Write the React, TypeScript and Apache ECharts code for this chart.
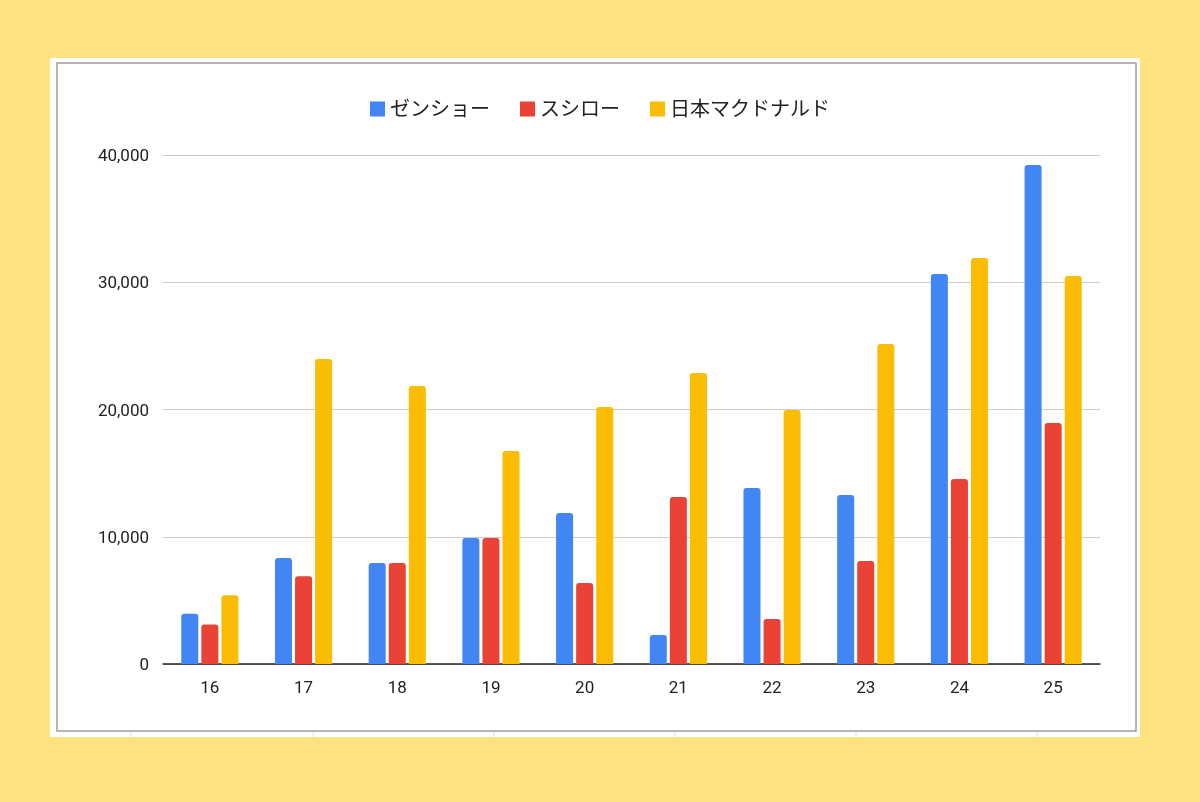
import React, { useEffect, useRef } from "react";
import * as echarts from "echarts";

const categories = ["16", "17", "18", "19", "20", "21", "22", "23", "24", "25"];
const zensho = [3950, 8330, 7940, 9900, 11870, 2280, 13830, 13280, 30650, 39210];
const sushiro = [3100, 6900, 7940, 9900, 6370, 13120, 3540, 8090, 14540, 18940];
const mcd = [5400, 23970, 21850, 16740, 20200, 22870, 19960, 25150, 31900, 30490];
const seriesNames = ["ゼンショー", "スシロー", "日本マクドナルド"];
const colors = ["#4285F4", "#EA4335", "#FBBC04"];

export default function App() {
  const ref = useRef<HTMLDivElement>(null);
  useEffect(() => {
    const chart = echarts.init(ref.current!, null, { renderer: "svg" });
    const font = "Roboto, 'Noto Sans CJK JP', sans-serif";
    const gridLines: any[] = [];
    [131, 313, 494, 675, 856, 1037].forEach((x) =>
      gridLines.push({ type: "line", shape: { x1: x, y1: 731, x2: x, y2: 737 }, style: { stroke: "#e3e3e3", lineWidth: 1 }, z: -9 })
    );
    chart.setOption({
      animation: false,
      color: colors,
      textStyle: { fontFamily: font },
      graphic: [
        { type: "rect", shape: { x: 0, y: 0, width: 1200, height: 802 }, style: { fill: "#FFE17F" }, z: -10 },
        { type: "rect", shape: { x: 50, y: 58, width: 1090, height: 679 }, style: { fill: "#ffffff" }, z: -10 },
        ...gridLines,
        { type: "rect", shape: { x: 57, y: 63, width: 1079, height: 668 }, style: { fill: "#ffffff", stroke: "#9e9e9e", lineWidth: 1.5 }, z: -8 },
      ],
      legend: {
        top: 94,
        left: "center",
        itemWidth: 15,
        itemHeight: 15,
        itemGap: 30,
        icon: "rect",
        textStyle: { fontSize: 20, color: "#222", fontFamily: font },
        data: seriesNames,
      },
      grid: { left: 163, right: 100, top: 155, bottom: 138 },
      xAxis: {
        type: "category",
        data: categories,
        axisLine: { lineStyle: { color: "#222", width: 1.5 } },
        axisTick: { show: false },
        axisLabel: { fontSize: 17, color: "#222", margin: 14, fontFamily: font },
      },
      yAxis: {
        type: "value",
        min: 0,
        max: 40000,
        interval: 10000,
        axisLine: { show: false },
        axisTick: { show: false },
        axisLabel: { fontSize: 17, color: "#222", margin: 14, fontFamily: font },
        splitLine: { lineStyle: { color: "#cccccc" } },
      },
      series: [zensho, sushiro, mcd].map((d, i) => ({
        name: seriesNames[i],
        type: "bar",
        data: d,
        barGap: "18%",
        barCategoryGap: "39%",
        itemStyle: { color: colors[i], borderRadius: [3, 3, 0, 0] },
      })),
    });
    return () => chart.dispose();
  }, []);
  return <div ref={ref} style={{ position: "fixed", left: 0, top: 0, width: 1200, height: 802 }} />;
}
